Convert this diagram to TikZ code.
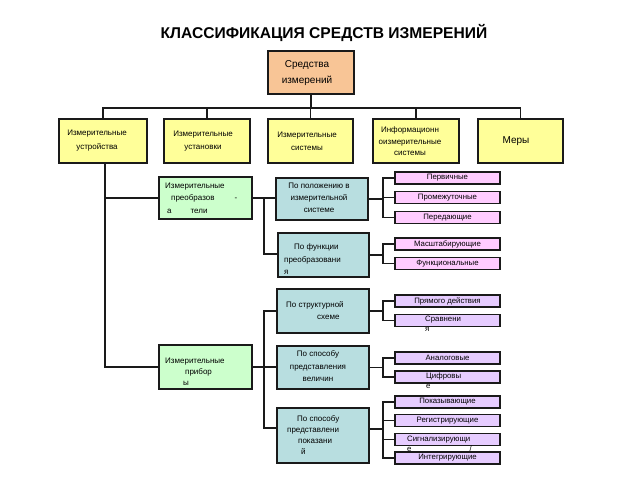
\documentclass[tikz,border=0pt]{standalone}
\usepackage{fontspec}
\setmainfont{Liberation Sans}
\definecolor{cOr}{HTML}{F8C596}
\definecolor{cYe}{HTML}{FFFF99}
\definecolor{cGr}{HTML}{CCFFCC}
\definecolor{cBl}{HTML}{B8DEE0}
\definecolor{cPk}{HTML}{FFCCFF}
\definecolor{cLv}{HTML}{E6CCFF}
\definecolor{cLn}{HTML}{1A1A1A}
\begin{document}
\begin{tikzpicture}[x=1pt,y=-1pt,
  box/.style={draw=cLn,line width=1.3pt,inner sep=0pt,minimum width=#1},
  box/.default=86,
  pk/.style={draw=cLn,line width=1.1pt,inner sep=0pt,minimum width=105,minimum height=12,fill=cPk,font=\fontsize{7.8}{9}\selectfont},
  lv/.style={pk,fill=cLv},
  txt/.style={inner sep=0pt,align=center,font=\fontsize{8}{#1}\selectfont},
  txt/.default=12,
  ltxt/.style={inner sep=0pt,align=left,anchor=west,font=\fontsize{8}{#1}\selectfont},
  ltxt/.default=12,
  ln/.style={draw=cLn,line width=1.2pt}
]
\useasboundingbox (0,0) rectangle (640,480);
\fill[white] (0,0) rectangle (640,480);

\node[inner sep=0pt,font=\fontsize{15.6}{18}\selectfont\bfseries] (title) at (324,33) {КЛАССИФИКАЦИЯ СРЕДСТВ ИЗМЕРЕНИЙ};

% top box
\node[box=86,minimum height=43,fill=cOr] (top) at (311,72.5) {};
\node[inner sep=0pt,align=center,font=\fontsize{10}{16}\selectfont] (ttop) at (307,73) {Средства\\измерений};

% level 2
\node[box=88,minimum height=44,fill=cYe] (b1) at (103,141) {};
\node[box=86,minimum height=44,fill=cYe] (b2) at (207,141) {};
\node[box=85,minimum height=44,fill=cYe] (b3) at (310.5,141) {};
\node[box=86,minimum height=44,fill=cYe] (b4) at (416,141) {};
\node[box=85,minimum height=44,fill=cYe] (b5) at (520.5,141) {};
\node[txt=14] (tb1) at (97,141) {Измерительные\\устройства};
\node[txt=13] (tb2) at (203,141.5) {Измерительные\\установки};
\node[txt=13] (tb3) at (307,141.5) {Измерительные\\системы};
\node[txt=11.5] (tb4) at (410,141.5) {Информационн\\оизмерительные\\системы};
\node[inner sep=0pt,font=\fontsize{10}{12}\selectfont] (tb5) at (516,141) {Меры};

% green
\node[box=93,minimum height=42,fill=cGr] (g1) at (205.5,198) {};
\node[box=93,minimum height=44,fill=cGr] (g2) at (205.5,367) {};
\node[ltxt=12.5] (tg1) at (165,198) {Измерительные\\\hspace*{6pt}преобразов\hspace{20pt}-\\\hspace*{2pt}а\hspace{19pt}тели};
\node[ltxt=11] (tg2) at (165,372) {Измерительные\\\hspace*{20pt}прибор\\\hspace*{18pt}ы};

% blue
\node[box=92,minimum height=42,fill=cBl] (bl1) at (322,199) {};
\node[box=91,minimum height=44,fill=cBl] (bl2) at (323.5,255) {};
\node[box=92,minimum height=44,fill=cBl] (bl3) at (323,311) {};
\node[box=92,minimum height=43,fill=cBl] (bl4) at (323,367.5) {};
\node[box=92,minimum height=55,fill=cBl] (bl5) at (323,435.5) {};
\node[txt=12] (tbl1) at (319,198) {По положению в\\измерительной\\системе};
\node[ltxt=12.5] (tbl2) at (284,259.5) {\hspace*{10pt}По функции\\преобразовани\\я};
\node[ltxt=12] (tbl3) at (286,311) {По структурной\\\hspace*{31pt}схеме};
\node[txt=12.5] (tbl4) at (318,366.5) {По способу\\представления\\величин};
\node[ltxt=11] (tbl5) at (287,435.5) {\hspace*{10pt}По способу\\представлени\\\hspace*{11pt}показани\\\hspace*{14pt}й};

% pink / lavender
\node[pk] (p1) at (447.5,178) {Первичные};
\node[pk] (p2) at (447.5,197.5) {Промежуточные};
\node[pk] (p3) at (447.5,217.5) {Передающие};
\node[pk] (p4) at (447.5,244) {Масштабирующие};
\node[pk] (p5) at (447.5,263.5) {Функциональные};
\node[lv] (l1) at (447.5,301) {Прямого действия};
\node[lv] (l2) at (447.5,320.5) {};
\node[lv] (l3) at (447.5,358) {Аналоговые};
\node[lv] (l4) at (447.5,377) {};
\node[lv] (l5) at (447.5,402) {Показывающие};
\node[lv] (l6) at (447.5,420.5) {Регистрирующие};
\node[lv] (l7) at (447.5,439.5) {};
\node[lv] (l8) at (447.5,458) {Интегрирующие};
\node[ltxt=10,font=\fontsize{7.8}{10}\selectfont] (tl2) at (425,324) {Сравнени\\я};
\node[ltxt=10,font=\fontsize{7.8}{10}\selectfont] (tl4) at (426,381) {Цифровы\\е};
\node[ltxt=10,font=\fontsize{7.8}{10}\selectfont] (tl7) at (407,444) {Сигнализирующи\\е\hspace{58pt}/};

% connectors
\coordinate (bus) at (311,108);
\coordinate (jx) at (264,0);
\coordinate (brx) at (383,0);
\draw[ln] (top.south) -- (bus);
\draw[ln] (b1.north) |- (bus) -| (b5.north);
\draw[ln] (b2.north) -- (b2.north |- bus);
\draw[ln] (b3.north) -- (b3.north |- bus);
\draw[ln] (b4.north) -- (b4.north |- bus);
\draw[ln] ([xshift=2pt]b1.south) |- (g1.west);
\draw[ln] ([xshift=2pt]b1.south) |- (g2.west);

\draw[ln] (g1.east) -- (g1.east -| bl1.west);
\draw[ln] (g1.east -| jx) |- ([yshift=1pt]bl2.west);
\draw[ln] (g2.east) -- (g2.east -| bl4.west);
\draw[ln] (bl3.west) -| (jx |- bl3.west) -- (jx |- 0,428) -- ([yshift=7.5pt]bl5.west);

% brackets
\draw[ln] (bl1.east) -- (bl1.east -| brx);
\draw[ln] (p1.west) -| (brx |- p3.west) -- (p3.west);
\draw[ln] (p2.west) -- (p2.west -| brx);
\draw[ln] (bl2.east) -- (bl2.east -| brx);
\draw[ln] (p4.west) -| (brx |- p5.west) -- (p5.west);
\draw[ln] (bl3.east) -- (bl3.east -| brx);
\draw[ln] (l1.west) -| (brx |- l2.west) -- (l2.west);
\draw[ln] (bl4.east) -- (bl4.east -| brx);
\draw[ln] (l3.west) -| (brx |- l4.west) -- (l4.west);
\draw[ln] ([yshift=6.5pt]bl5.east) -- (brx |- 0,429);
\draw[ln] (l5.west) -| (brx |- l8.west) -- (l8.west);
\draw[ln] (l6.west) -- (l6.west -| brx);
\draw[ln] (l7.west) -- (l7.west -| brx);
\end{tikzpicture}
\end{document}
